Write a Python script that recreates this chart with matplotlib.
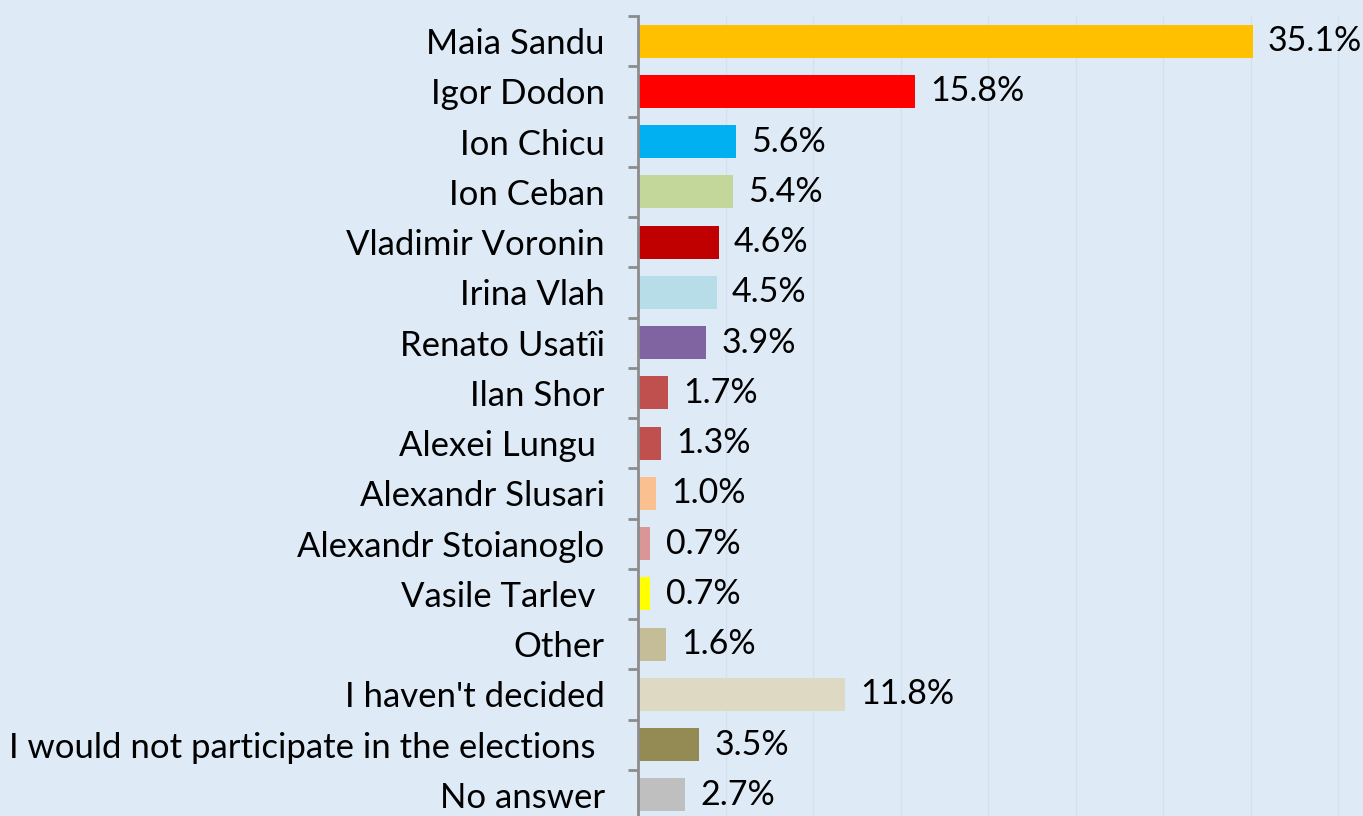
import matplotlib
matplotlib.use("Agg")
import matplotlib.pyplot as plt
import numpy as np

# Data (top to bottom as shown)
candidates = ["Maia Sandu", "Igor Dodon", "Ion Chicu", "Ion Ceban",
              "Vladimir Voronin", "Irina Vlah", "Renato Usatîi", "Ilan Shor",
              "Alexei Lungu ", "Alexandr Slusari", "Alexandr Stoianoglo",
              "Vasile Tarlev ", "Other", "I haven't decided",
              "I would not participate in the elections ", "No answer"]
shares = [35.1, 15.8, 5.6, 5.4, 4.6, 4.5, 3.9, 1.7, 1.3, 1.0, 0.7, 0.7,
          1.6, 11.8, 3.5, 2.7]
bar_colors = ["#FFC000", "#FF0000", "#00B0F0", "#C4D79B", "#C00000",
              "#B7DEE8", "#8064A2", "#C0504D", "#C0504D", "#FAC090",
              "#DA9694", "#FFFF00", "#C4BD97", "#DDD9C3", "#948A54",
              "#BFBFBF"]

bg = "#DEEAF6"
plt.rcParams["font.family"] = ["Lato", "DejaVu Sans"]

fig = plt.figure(figsize=(13.63, 8.16), dpi=100, facecolor=bg)
ax = fig.add_axes([638 / 1363, -4 / 816, 725 / 1363, 804 / 816])
ax.set_facecolor(bg)

n = len(candidates)
y = np.arange(n)
ax.barh(y, shares, height=0.66, color=bar_colors, zorder=2)

for yi, v in zip(y, shares):
    ax.annotate("%.1f%%" % v, xy=(v, yi), xytext=(11, 0),
                textcoords="offset points", va="center", ha="left",
                fontsize=24.5, color="black")

ax.set_ylim(n - 0.5, -0.5)
ax.set_xlim(0, 41.4)

ax.set_xticks(np.arange(0, 41, 5))
ax.xaxis.grid(True, color="#D4E0EE", linewidth=1.0, zorder=0)
ax.tick_params(axis="x", length=0, labelbottom=False)

ax.set_yticks(y)
ax.set_yticklabels(candidates, fontsize=25)
ax.set_yticks(np.arange(-0.5, n, 1.0), minor=True)
ax.tick_params(axis="y", which="major", length=0, pad=24)
ax.tick_params(axis="y", which="minor", length=7, width=2, color="#8C8C8C")

for s in ["top", "right", "bottom"]:
    ax.spines[s].set_visible(False)
ax.spines["left"].set_color("#8C8C8C")
ax.spines["left"].set_linewidth(2)

fig.savefig("out.png", dpi=100, facecolor=bg)
